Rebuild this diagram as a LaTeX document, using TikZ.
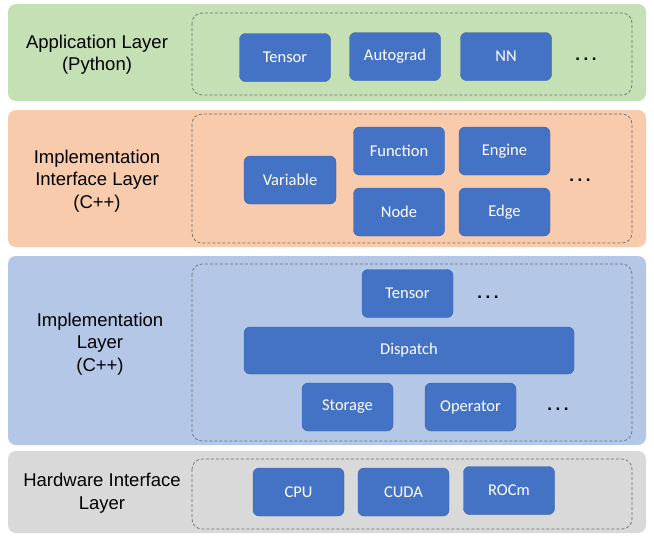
\documentclass[tikz,border=0pt]{standalone}
\usepackage{fontspec}
\setmainfont{Liberation Sans}
\newfontfamily\boxfont{Carlito}
\definecolor{lgreen}{HTML}{C5E0B4}
\definecolor{lorange}{HTML}{F8CBAD}
\definecolor{lblue}{HTML}{B4C7E7}
\definecolor{lgray}{HTML}{D9D9D9}
\definecolor{boxblue}{HTML}{4472C4}
\definecolor{dashgray}{HTML}{6E6E6E}
\newcommand{\mydots}{.\hspace{3.5pt}.\hspace{3.5pt}.}
\begin{document}
\begin{tikzpicture}[x=1pt,y=-1pt,
  layer/.style={rounded corners=8pt},
  inner/.style={draw=dashgray,dash pattern=on 3pt off 2pt,rounded corners=10pt,line width=0.7pt},
  blk/.style={fill=boxblue,draw=boxblue!85!black,line width=0.4pt,rounded corners=6pt,text=white,
    font=\boxfont\fontsize{16.5}{18}\selectfont,inner sep=0pt,minimum width=91pt,minimum height=48pt},
  lbl/.style={font=\fontsize{18.5}{22.5}\selectfont,align=center,text=black},
  dots/.style={font=\fontsize{17}{18}\selectfont\bfseries,text=black}]
\useasboundingbox (0,0) rectangle (654,539);
\fill[white] (0,0) rectangle (654,539);
% layers
\fill[lgreen,layer] (8,4) rectangle (646,101);
\fill[lorange,layer] (8,110) rectangle (646,247);
\fill[lblue,layer] (8,256) rectangle (646,445);
\fill[lgray,layer] (8,451) rectangle (646,533);
% dashed frames
\draw[inner] (192,13) rectangle (632,95);
\draw[inner] (192,114) rectangle (632,243);
\draw[inner] (192,264) rectangle (632,441);
\draw[inner] (192,459) rectangle (632,529);
% labels
\node[lbl] (l1) at (97,54.5) {Application Layer\\(Python)};
\node[lbl] (l2) at (97,181) {Implementation\\Interface Layer\\(C++)};
\node[lbl] (l3) at (100,344) {Implementation\\Layer\\(C++)};
\node[lbl] (l4) at (102,493) {Hardware Interface\\Layer};
% application
\node[blk] (t1) at (285,57.5) {Tensor};
\node[blk] (ag) at (395,56.5) {Autograd};
\node[blk] (nn) at (506,56.5) {NN};
\node[dots] (d1) at (586,59) {\mydots};
% implementation interface
\node[blk,minimum width=92pt] (var) at (290,180) {Variable};
\node[blk] (fun) at (399,151) {Function};
\node[blk] (eng) at (504.5,151) {Engine};
\node[blk] (nod) at (399,212) {Node};
\node[blk] (edg) at (504.5,212) {Edge};
\node[dots] (d2) at (580,180) {\mydots};
% implementation
\node[blk] (t2) at (407.5,293.5) {Tensor};
\node[dots] (d3) at (488,297) {\mydots};
\node[blk,minimum width=330pt,minimum height=47pt] (dis) at (409,350.5) {Dispatch};
\node[blk] (sto) at (347.5,407) {Storage};
\node[blk] (ope) at (470.5,407) {Operator};
\node[dots] (d4) at (558,409) {\mydots};
% hardware
\node[blk] (cpu) at (298.5,492) {CPU};
\node[blk] (cud) at (403.5,492) {CUDA};
\node[blk] (roc) at (509,490.5) {ROCm};
\end{tikzpicture}
\end{document}
